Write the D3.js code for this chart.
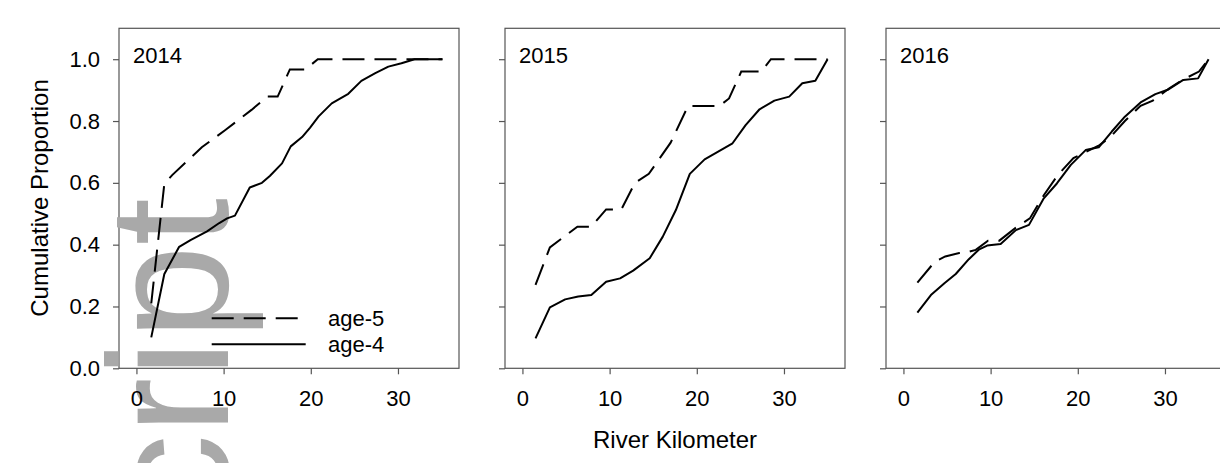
<!DOCTYPE html>
<html>
<head>
<meta charset="utf-8">
<script src="https://cdn.jsdelivr.net/npm/d3@7"></script>
<style>
  body { margin: 0; background: #fff; }
  svg { font-family: "Liberation Sans", Arial, sans-serif; display: block; }
</style>
</head>
<body>
<div id="chart"></div>
<script>
//--------------------------- Data

var years = ["2014", "2015", "2016"];
var kmTicks = [0, 10, 20, 30];
var propTicks = [0, 0.2, 0.4, 0.6, 0.8, 1.0];
var legendLabels = ["age-5", "age-4"];

var age4Km2014 = [1.7, 3.2, 4.9, 6.2, 8.1, 9.5, 10.4, 11.3, 13.0, 14.4, 15.3, 16.7, 17.7, 19.0, 19.9, 20.9, 22.4, 24.3, 25.8, 27.4, 28.9, 30.4, 31.9, 35.1];
var age4Prop2014 = [0.10, 0.305, 0.393, 0.415, 0.443, 0.47, 0.485, 0.494, 0.585, 0.60, 0.622, 0.663, 0.718, 0.748, 0.778, 0.815, 0.857, 0.888, 0.93, 0.955, 0.976, 0.987, 1.0, 1.0];
var age5Km2014 = [1.7, 3.2, 4.1, 7.5, 10.2, 13.2, 15.0, 16.2, 17.6, 19.4, 20.8, 35.1];
var age5Prop2014 = [0.21, 0.597, 0.625, 0.715, 0.771, 0.836, 0.879, 0.879, 0.967, 0.967, 1.0, 1.0];

var age4Km2015 = [1.5, 3.15, 4.9, 6.4, 7.9, 9.6, 11.2, 12.7, 14.6, 16.1, 17.6, 19.2, 20.9, 22.4, 24.1, 25.6, 27.2, 28.9, 30.6, 32.1, 33.6, 35.0];
var age4Prop2015 = [0.097, 0.197, 0.223, 0.232, 0.237, 0.28, 0.291, 0.316, 0.356, 0.426, 0.512, 0.629, 0.676, 0.70, 0.728, 0.787, 0.838, 0.866, 0.879, 0.922, 0.93, 1.0];
var age5Km2015 = [1.5, 3.15, 6.3, 7.9, 9.6, 11.35, 12.9, 14.5, 17.0, 19.0, 22.6, 23.7, 25.1, 27.4, 28.5, 35.0];
var age5Prop2015 = [0.27, 0.391, 0.458, 0.458, 0.514, 0.514, 0.60, 0.629, 0.73, 0.849, 0.849, 0.873, 0.96, 0.96, 1.0, 1.0];

var age4Km2016 = [1.6, 3.15, 4.7, 6.0, 7.5, 8.7, 9.6, 11.15, 12.9, 14.4, 16.1, 17.6, 19.2, 20.9, 22.4, 23.9, 25.4, 27.2, 28.9, 30.4, 32.1, 33.8, 35.0];
var age4Prop2016 = [0.18, 0.237, 0.275, 0.305, 0.353, 0.385, 0.397, 0.402, 0.447, 0.464, 0.55, 0.598, 0.658, 0.706, 0.715, 0.766, 0.814, 0.86, 0.887, 0.902, 0.933, 0.938, 1.0];
var age5Km2016 = [1.6, 3.6, 4.8, 6.4, 7.4, 8.3, 9.7, 11.0, 12.9, 14.5, 16.1, 17.7, 19.5, 20.9, 22.5, 23.8, 25.4, 27.2, 28.6, 30.5, 32.0, 33.9, 35.0];
var age5Prop2016 = [0.277, 0.345, 0.362, 0.373, 0.376, 0.383, 0.413, 0.413, 0.455, 0.485, 0.56, 0.625, 0.68, 0.70, 0.722, 0.75, 0.80, 0.849, 0.866, 0.906, 0.933, 0.96, 1.0];

function zip(xs, ys) { return xs.map(function (d, i) { return [d, ys[i]]; }); }

var panels = [
    { year: years[0], age4: zip(age4Km2014, age4Prop2014), age5: zip(age5Km2014, age5Prop2014) },
    { year: years[1], age4: zip(age4Km2015, age4Prop2015), age5: zip(age5Km2015, age5Prop2015) },
    { year: years[2], age4: zip(age4Km2016, age4Prop2016), age5: zip(age5Km2016, age5Prop2016) }
];

//--------------------------- SVG definition

var width = 1220, height = 463;
var panelLeft = [119, 505, 886];
var panelTop = 28.3;
var size = 340;
var dash = "22,10";

var svg = d3.select("#chart").append("svg")
    .attr("width", width)
    .attr("height", height);

var x = d3.scaleLinear().domain([-2, 37]).range([0, size]);
var y = d3.scaleLinear().domain([0, 1.1]).range([size, 0]);

var line = d3.line()
    .x(function (d) { return x(d[0]); })
    .y(function (d) { return y(d[1]); });

var frameLayer = svg.append("g");
var markLayer = svg.append("g");
var axisLayer = svg.append("g");

//--------------------------- Panels: frame + axes

panels.forEach(function (p, i) {
    var fg = frameLayer.append("g")
        .attr("transform", "translate(" + panelLeft[i] + "," + panelTop + ")");
    fg.append("rect")
        .attr("width", size).attr("height", size)
        .attr("fill", "none")
        .attr("stroke", "#555")
        .attr("stroke-width", 1.2);

    var ag = axisLayer.append("g")
        .attr("transform", "translate(" + panelLeft[i] + "," + panelTop + ")");

    var yAxis = d3.axisLeft(y).tickValues(propTicks).tickSize(6).tickPadding(13)
        .tickFormat(i === 0 ? d3.format(".1f") : function () { return ""; });
    var gy = ag.append("g").call(yAxis);

    var gx = ag.append("g")
        .attr("transform", "translate(0," + size + ")")
        .call(d3.axisBottom(x).tickValues(kmTicks).tickSize(6).tickPadding(16));

    [gx, gy].forEach(function (g) {
        g.select(".domain").remove();
        g.selectAll(".tick line").attr("stroke", "#555").attr("stroke-width", 1.2);
        g.selectAll(".tick text")
            .attr("fill", "#000")
            .style("font-size", "22px")
            .style("font-family", "'Liberation Sans', Arial, sans-serif");
    });

    // panel year
    ag.append("text")
        .attr("x", 14).attr("y", 35)
        .style("font-size", "22px")
        .attr("fill", "#000")
        .text(p.year);

    //--------------- the two cumulative curves
    var mg = markLayer.append("g")
        .attr("transform", "translate(" + panelLeft[i] + "," + panelTop + ")");

    mg.append("path")
        .attr("d", line(p.age5))
        .attr("fill", "none")
        .attr("stroke", "#000")
        .attr("stroke-width", 2)
        .attr("stroke-dasharray", dash);

    mg.append("path")
        .attr("d", line(p.age4))
        .attr("fill", "none")
        .attr("stroke", "#000")
        .attr("stroke-width", 2)
        .attr("stroke-linejoin", "round");

    //--------------- legend in first panel only
    if (i === 0) {
        var lg = markLayer.append("g")
            .attr("transform", "translate(" + panelLeft[i] + "," + panelTop + ")");
        lg.append("line")
            .attr("x1", 92.7).attr("x2", 180).attr("y1", 290).attr("y2", 290)
            .attr("stroke", "#000").attr("stroke-width", 2)
            .attr("stroke-dasharray", dash);
        lg.append("line")
            .attr("x1", 92.7).attr("x2", 186.7).attr("y1", 316).attr("y2", 316)
            .attr("stroke", "#000").attr("stroke-width", 2);
        lg.selectAll("text.leg")
            .data(legendLabels)
            .enter().append("text")
            .attr("class", "leg")
            .attr("x", 209)
            .attr("y", function (d, k) { return 298 + k * 26; })
            .style("font-size", "22px")
            .attr("fill", "#000")
            .text(function (d) { return d; });
    }
});

//--------------------------- Manuscript watermark (sits under the marks)

frameLayer.append("text")
    .attr("transform", "translate(228,198) rotate(-90)")
    .attr("text-anchor", "end")
    .style("font-size", "170px")
    .attr("fill", "#a9a9a9")
    .text("Author Manuscript");

//--------------------------- Axis titles

svg.append("text")
    .attr("transform", "translate(48,198) rotate(-90)")
    .attr("text-anchor", "middle")
    .style("font-size", "24px")
    .attr("fill", "#000")
    .text("Cumulative Proportion");

svg.append("text")
    .attr("x", 675).attr("y", 448)
    .attr("text-anchor", "middle")
    .style("font-size", "24px")
    .attr("fill", "#000")
    .text("River Kilometer");
</script>
</body>
</html>
